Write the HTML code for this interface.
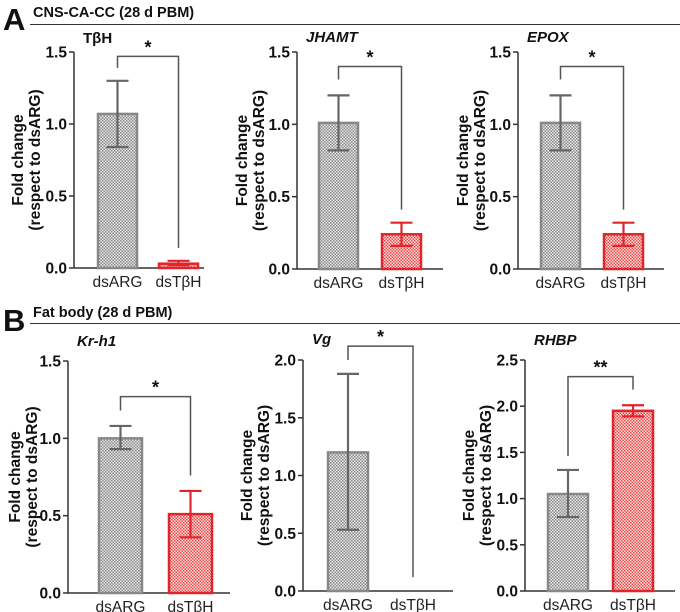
<!DOCTYPE html>
<html><head><meta charset="utf-8">
<style>
body{margin:0;background:#fff;}
svg{display:block;font-family:"Liberation Sans",Arial,sans-serif;}
</style></head>
<body>
<svg id="fig" width="680" height="612" viewBox="0 0 680 612">
<defs>
<pattern id="pg" width="3" height="3" patternUnits="userSpaceOnUse"><rect width="3" height="3" fill="#e6e6e6"/><rect width="1.5" height="1.5" fill="#8c8c8c"/><rect x="1.5" y="1.5" width="1.5" height="1.5" fill="#8c8c8c"/></pattern>
<pattern id="pr" width="3" height="3" patternUnits="userSpaceOnUse"><rect width="3" height="3" fill="#fbe0e0"/><rect width="1.5" height="1.5" fill="#e84a4a"/><rect x="1.5" y="1.5" width="1.5" height="1.5" fill="#e84a4a"/></pattern>
</defs>
<g>
<text x="3" y="30" font-size="31" font-weight="bold" fill="#111">A</text>
<text x="33" y="17" font-size="14.5" font-weight="bold" fill="#111">CNS-CA-CC (28 d PBM)</text>
<line x1="30" y1="24.5" x2="680" y2="24.5" stroke="#333" stroke-width="1"/>
</g>
<g>
<text x="3" y="331" font-size="31" font-weight="bold" fill="#111">B</text>
<text x="33" y="317" font-size="14.5" font-weight="bold" fill="#111">Fat body (28 d PBM)</text>
<line x1="30" y1="323.5" x2="680" y2="323.5" stroke="#333" stroke-width="1"/>
</g>
</svg>
<script>
const categories = ["dsARG", "dsTβH"];
const titles = ["TβH", "JHAMT", "EPOX", "Kr-h1", "Vg", "RHBP"];
const means = [[1.07,0.03],[1.01,0.24],[1.01,0.24],[1.00,0.51],[1.20,0.0],[1.05,1.95]];
const errLow = [[0.84,0.02],[0.82,0.16],[0.82,0.16],[0.93,0.36],[0.53,0.0],[0.80,1.89]];
const errHigh = [[1.30,0.05],[1.20,0.32],[1.20,0.32],[1.08,0.66],[1.88,0.0],[1.31,2.01]];
const yMax = [1.5,1.5,1.5,1.5,2.0,2.5];
const sigLabels = ["*","*","*","*","*","**"];
const bracketTop = [1.47,1.40,1.40,1.27,2.12,2.32];
const bracketLeft = [1.39,1.31,1.31,1.18,2.0,1.46];
const bracketRight = [0.14,0.41,0.41,0.76,0.12,2.18];

const layout = [
 {ax:74, top:52, zero:268, off:23, bw:41, gap:61, len:130, italic:false, ty:43, ylx:26},
 {ax:297,top:52, zero:269, off:21, bw:41, gap:63, len:146, italic:true, ty:42, ylx:250},
 {ax:518,top:52, zero:269, off:22, bw:41, gap:63, len:146, italic:true, ty:42, ylx:471},
 {ax:68, top:361,zero:593, off:30, bw:45, gap:70, len:162, italic:true, ty:346, ylx:23},
 {ax:303,top:360,zero:591, off:24, bw:42, gap:65, len:150, italic:true, ty:344, ylx:255},
 {ax:525,top:360,zero:591, off:22, bw:42, gap:65, len:150, italic:true, ty:345, ylx:477}
];
const NS="http://www.w3.org/2000/svg";
const svg=document.getElementById('fig');
function mk(tag,attrs,parent){const e=document.createElementNS(NS,tag);for(const k in attrs)e.setAttribute(k,attrs[k]);(parent||svg).appendChild(e);return e;}
for(let p=0;p<6;p++){
 const L=layout[p];
 const y=v=>L.zero-(v/yMax[p])*(L.zero-L.top);
 const cx=i=>L.ax+L.off+L.bw/2+i*L.gap;
 const g=mk('g',{});
 
 
 const t=mk('text',{x:L.ax+9,y:L.ty,'font-size':15,'font-weight':'bold','font-style':L.italic?'italic':'normal',fill:'#111'},g);
 t.textContent=titles[p];
 
 
 const yl=mk('text',{transform:`translate(${L.ylx},${(L.top+L.zero)/2}) rotate(-90)`,'text-anchor':'middle','font-size':15.5,'font-weight':'bold',fill:'#111'},g);
 
 
 const s1=mk('tspan',{x:0,dy:-3},yl);s1.textContent='Fold change';
 const s2=mk('tspan',{x:0,dy:17},yl);s2.textContent='(respect to dsARG)';
 const ya=mk('line',{x1:L.ax,y1:L.top,x2:L.ax,y2:L.zero,stroke:'#333','stroke-width':1.5},g);
 
 
 const xa=mk('line',{x1:L.ax,y1:L.zero,x2:L.ax+L.len,y2:L.zero,stroke:'#333','stroke-width':1.5},g);
 
 
 for(let v=0;v<=yMax[p]+1e-9;v+=0.5){
  const tk=mk('line',{x1:L.ax-5,x2:L.ax,y1:y(v),y2:y(v),stroke:'#333','stroke-width':1.5},g);
  
  
  const tl=mk('text',{x:L.ax-7,y:y(v)+5.5,'text-anchor':'end','font-size':15.5,'font-weight':'bold',fill:'#111'},g);
  tl.textContent=v.toFixed(1);
  
  
 }
 for(let i=0;i<2;i++){
  const col=i===0?'#888':'#e0262b';
  const m=means[p][i];
  if(m>0){
   const b=mk('rect',{x:cx(i)-L.bw/2+1,y:y(m),width:L.bw-2,height:L.zero-y(m),fill:i===0?'url(#pg)':'url(#pr)',stroke:col,'stroke-width':2.5},g);
   
   
  }
  if(errHigh[p][i]>errLow[p][i]){
   const ecol=i===0?'#666':'#e0262b';
   const eg=mk('g',{stroke:ecol,'stroke-width':2.2},g);
   
   
   mk('line',{x1:cx(i),x2:cx(i),y1:y(errHigh[p][i]),y2:y(errLow[p][i])},eg);
   mk('line',{x1:cx(i)-11,x2:cx(i)+11,y1:y(errHigh[p][i]),y2:y(errHigh[p][i])},eg);
   mk('line',{x1:cx(i)-11,x2:cx(i)+11,y1:y(errLow[p][i]),y2:y(errLow[p][i])},eg);
  }
  const cl=mk('text',{x:cx(i),y:L.zero+19,'text-anchor':'middle','font-size':15.5,fill:'#222'},g);
  cl.textContent=categories[i];
  
  
 }
 const br=mk('polyline',{points:`${cx(0)},${y(bracketLeft[p])} ${cx(0)},${y(bracketTop[p])} ${cx(1)},${y(bracketTop[p])} ${cx(1)},${y(bracketRight[p])}`,fill:'none',stroke:'#555','stroke-width':1.5},g);
 
 
 const st=mk('text',{x:(cx(0)+cx(1))/2,y:y(bracketTop[p])-3,'text-anchor':'middle','font-size':18,'font-weight':'bold',fill:'#111'},g);
 st.textContent=sigLabels[p];
 
 
}
</script>
</body></html>
